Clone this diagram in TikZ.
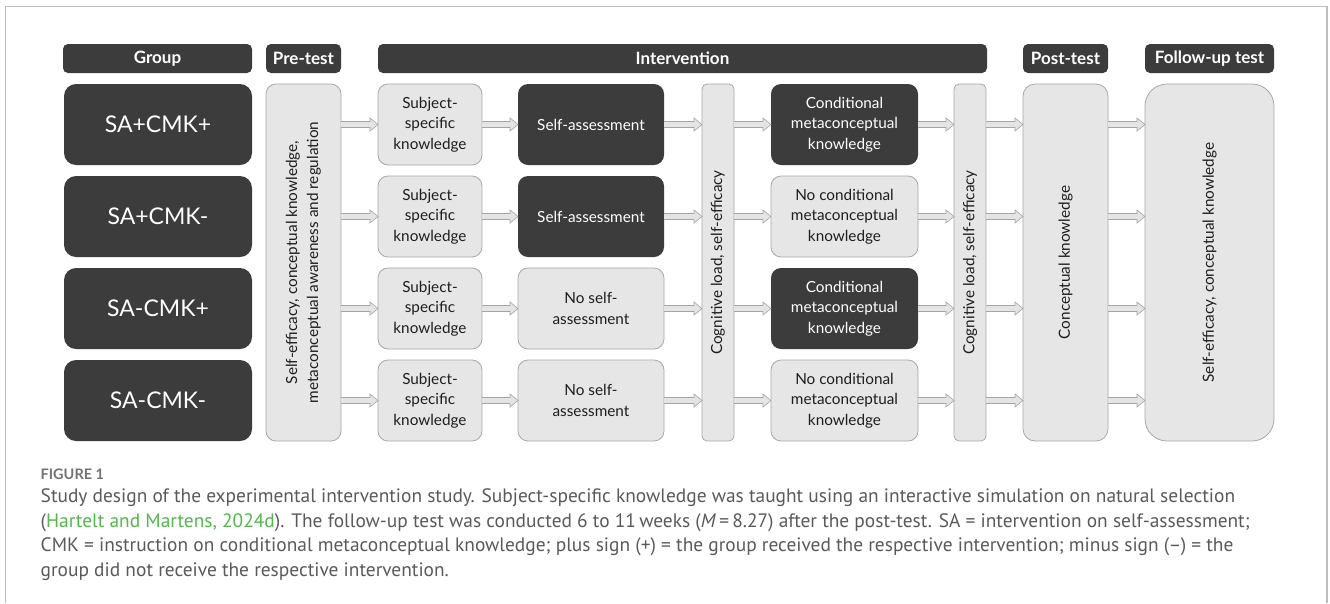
\documentclass[tikz,border=0pt]{standalone}
\usepackage{fontspec}
\setmainfont{Lato}
\newfontfamily\capfont{PT Sans}
\usetikzlibrary{calc}

\definecolor{darkbox}{HTML}{3C3C3C}
\definecolor{lightbox}{HTML}{E6E6E6}
\definecolor{boxline}{HTML}{A8A8A8}
\definecolor{arrfill}{HTML}{E4E4E4}
\definecolor{arrline}{HTML}{A5A5A5}
\definecolor{framegray}{HTML}{BDBDBD}
\definecolor{captext}{HTML}{5A5A5A}
\definecolor{capgreen}{HTML}{55B64E}
\definecolor{boxtext}{HTML}{1E1E1E}

% hollow block arrow between two points on one horizontal line
\newcommand\flowarrow[2]{%
  \path let \p1=(#1), \p2=(#2) in
    [draw=arrline, fill=arrfill, line width=0.6pt, line join=miter]
    (\x1,\y1+3pt) -- (\x2-8pt,\y1+3pt) -- (\x2-8pt,\y1+6.5pt) -- (\x2,\y1)
    -- (\x2-8pt,\y1-6.5pt) -- (\x2-8pt,\y1-3pt) -- (\x1,\y1-3pt);}

\begin{document}
\begin{tikzpicture}[x=1pt,y=-1pt,
  every node/.style={inner sep=0pt, outer sep=0pt},
  header/.style={fill=darkbox, rounded corners=5pt, minimum height=29pt,
    text=white, font=\fontsize{17}{19}\selectfont\bfseries},
  groupbox/.style={fill=darkbox, rounded corners=12pt, minimum width=188pt,
    minimum height=81pt, text=white, font=\fontsize{23}{27}\selectfont},
  lightstep/.style={fill=lightbox, draw=boxline, line width=0.8pt,
    rounded corners=10pt, minimum height=81pt, align=center, text=boxtext,
    font=\fontsize{15.3}{20.5}\selectfont},
  darkstep/.style={fill=darkbox, rounded corners=10pt, minimum height=81pt,
    align=center, text=white, font=\fontsize{15.3}{20.5}\selectfont},
  tallbox/.style={fill=lightbox, draw=boxline, line width=0.8pt,
    minimum height=357pt},
  vlabel/.style={rotate=90, align=center, text=boxtext,
    font=\fontsize{15.3}{21}\selectfont},
]
\useasboundingbox (0,0) rectangle (1330,603);
\fill[white] (0,0) rectangle (1330,603);

% outer frame, open at the bottom
\draw[framegray, line width=1.3pt] (5.5,603) -- (5.5,6.5) -- (1327,6.5) -- (1327,603);

% column headers
\node[header, minimum width=189pt] (hgroup) at (157.5,58.5) {Group};
\node[header, minimum width=75pt]  (hpre)   at (303.5,58.5) {Pre-test};
\node[header, minimum width=609pt] (hint)   at (682.5,58.5) {Intervention};
\node[header, minimum width=85pt]  (hpost)  at (1065.5,58.5) {Post-test};
\node[header, minimum width=129pt] (hfol)   at (1209.5,58.5) {Follow-up test};

% groups
\node[groupbox] (g1) at (158,124.5) {SA+CMK+};
\node[groupbox] (g2) at (158,216.5) {SA+CMK-};
\node[groupbox] (g3) at (158,308.5) {SA-CMK+};
\node[groupbox] (g4) at (158,400.5) {SA-CMK-};

% measurement columns spanning all groups
\node[tallbox, rounded corners=10pt, minimum width=75pt] (pre) at (303.5,262.5) {};
\node[vlabel] at (pre.center) {Self-efficacy, conceptual knowledge,\\metaconceptual awareness and regulation};
\node[tallbox, rounded corners=5pt, minimum width=32pt] (cla) at (718,262.5) {};
\node[vlabel] at (cla.center) {Cognitive load, self-efficacy};
\node[tallbox, rounded corners=5pt, minimum width=32pt] (clb) at (970,262.5) {};
\node[vlabel] at (clb.center) {Cognitive load, self-efficacy};
\node[tallbox, rounded corners=12pt, minimum width=85pt] (post) at (1065.5,262.5) {};
\node[vlabel] at (post.center) {Conceptual knowledge};
\node[tallbox, rounded corners=22pt, minimum width=129pt] (fol) at (1209.5,262.5) {};
\node[vlabel] at (fol.center) {Self-efficacy, conceptual knowledge};

% intervention steps per group
\foreach \r/\yy in {1/124.5, 2/216.5, 3/308.5, 4/400.5}{
  \node[lightstep, minimum width=104pt] (s\r) at (430,\yy) {Subject-\\specific\\knowledge};
}
\node[darkstep,  minimum width=146pt] (a1) at (591,124.5) {Self-assessment};
\node[darkstep,  minimum width=146pt] (a2) at (591,216.5) {Self-assessment};
\node[lightstep, minimum width=146pt] (a3) at (591,308.5) {No self-\\assessment};
\node[lightstep, minimum width=146pt] (a4) at (591,400.5) {No self-\\assessment};

\node[darkstep,  minimum width=147pt] (c1) at (844.5,124.5) {Conditional\\metaconceptual\\knowledge};
\node[lightstep, minimum width=147pt] (c2) at (844.5,216.5) {No conditional\\metaconceptual\\knowledge};
\node[darkstep,  minimum width=147pt] (c3) at (844.5,308.5) {Conditional\\metaconceptual\\knowledge};
\node[lightstep, minimum width=147pt] (c4) at (844.5,400.5) {No conditional\\metaconceptual\\knowledge};

% connectors
\foreach \r in {1,2,3,4}{
  \flowarrow{pre.east |- g\r.center}{s\r.west}
  \flowarrow{s\r.east}{a\r.west}
  \flowarrow{a\r.east}{cla.west |- g\r.center}
  \flowarrow{cla.east |- g\r.center}{c\r.west}
  \flowarrow{c\r.east}{clb.west |- g\r.center}
  \flowarrow{clb.east |- g\r.center}{post.west |- g\r.center}
  \flowarrow{post.east |- g\r.center}{fol.west |- g\r.center}
}

% caption
\begin{scope}[every node/.style={anchor=base west, inner sep=0pt, text=captext,
    font=\capfont\fontsize{19.4}{24}\selectfont}]
\node[font=\bfseries\fontsize{14.5}{16}\selectfont, text=captext!85!white] (fig) at (40.5,479) {FIGURE 1};
\node (l1) at (40.5,502.7) {Study design of the experimental intervention study. Subject-specific knowledge was taught using an interactive simulation on natural selection};
\node (l2) at (40.5,527.3) {(\textcolor{capgreen}{Hartelt and Martens, 2024d}). The follow-up test was conducted 6 to 11\,weeks (\textit{M}\,=\,8.27) after the post-test. SA = intervention on self-assessment;};
\node (l3) at (40.5,551.7) {CMK = instruction on conditional metaconceptual knowledge; plus sign (+) = the group received the respective intervention; minus sign (–) = the};
\node (l4) at (40.5,576) {group did not receive the respective intervention.};
\end{scope}
\end{tikzpicture}
\end{document}
